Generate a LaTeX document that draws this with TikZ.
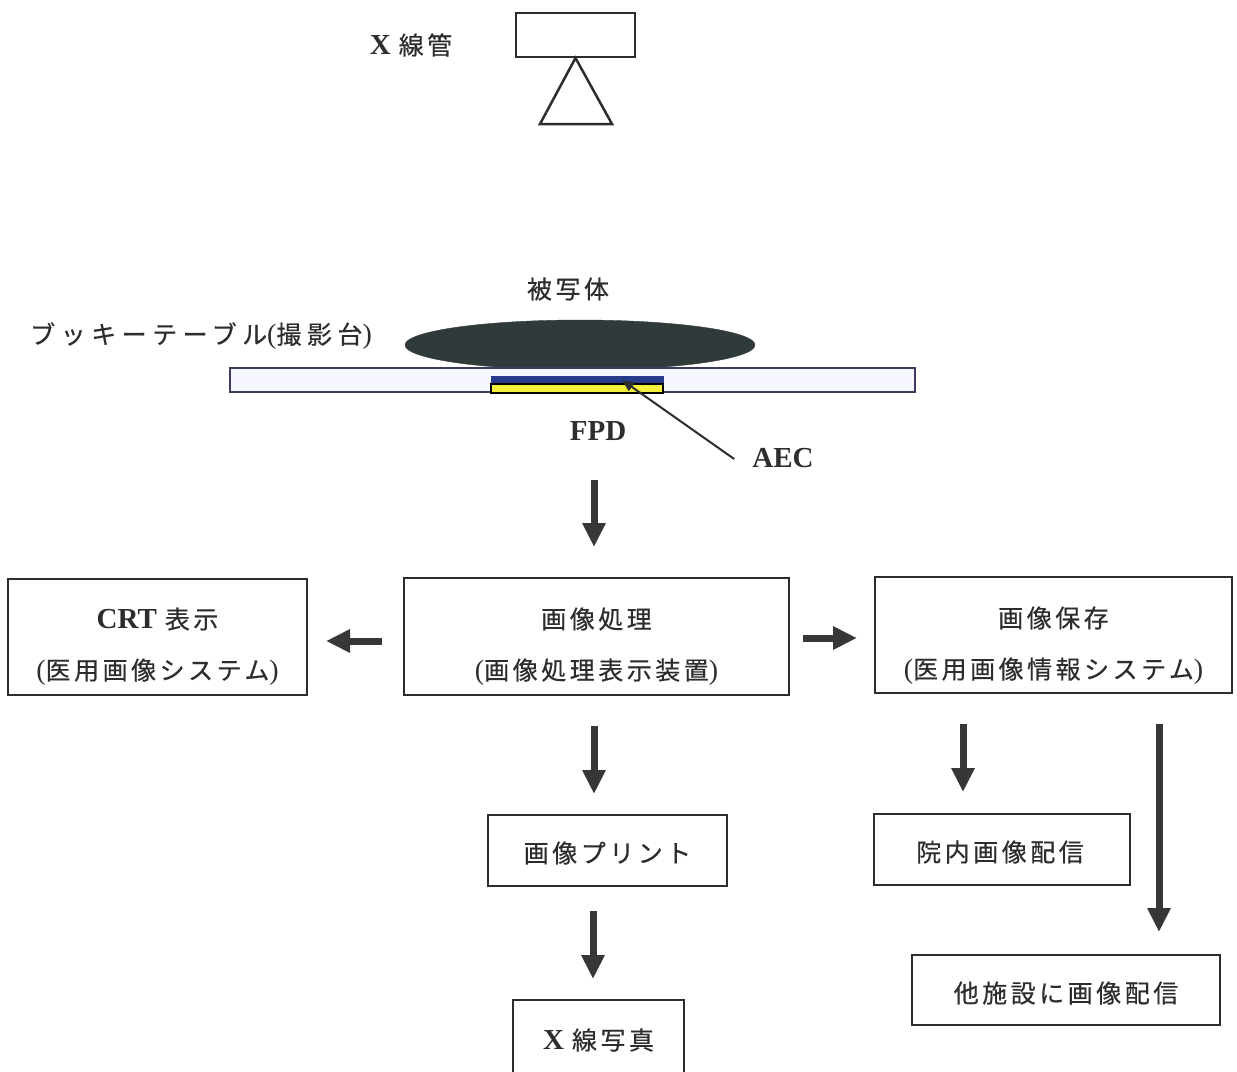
\documentclass[tikz,border=0pt]{standalone}
\usepackage{fontspec}
\usetikzlibrary{arrows.meta,calc,shapes.geometric}
\newfontfamily\jp[LetterSpace=14,FakeBold=0.4]{Noto Sans CJK JP}
\newfontfamily\jpwide[LetterSpace=22,FakeBold=0.4]{Noto Sans CJK JP}
\newfontfamily\lat{Liberation Serif}
\newcommand\lt[1]{{\fontsize{29}{31}\selectfont\lat\bfseries #1}}
\newcommand\lp{{\fontsize{28}{30}\selectfont\lat(}}
\newcommand\rp{{\fontsize{28}{30}\selectfont\lat)}}
\definecolor{ink}{RGB}{45,45,45}
\definecolor{arrowgray}{RGB}{55,55,55}
\definecolor{objfill}{RGB}{48,58,58}
\definecolor{tableedge}{RGB}{60,60,95}
\definecolor{aecblue}{RGB}{40,60,140}
\definecolor{fpdyellow}{RGB}{245,240,60}
\tikzset{
  txt/.style={inner sep=0pt, text=ink, font=\fontsize{25}{28}\selectfont\jp},
  box/.style={draw=ink, line width=2pt, fill=white, inner sep=0pt},
  bigarrow/.style={draw=arrowgray, line width=7pt, -{Triangle[width=22pt,length=24pt]}},
  thinarrow/.style={draw=ink, line width=2pt, -{Triangle[width=10pt,length=12pt]}},
}
\begin{document}
\begin{tikzpicture}[x=1pt,y=-1pt]
\clip (0,0) rectangle (1237,1071);
\fill[white] (0,0) rectangle (1237,1071);

% X-ray tube
\node[txt] (xlabel) at (411,45) {\lt{X}\hspace{8pt}線管};
\node[box, minimum width=119pt, minimum height=44pt] (tube) at (575.5,35) {};
\draw[ink, line width=2.5pt, line join=miter] (tube.south) -- (540,124) -- (612,124) -- cycle;

% object and table
\node[txt] (objlabel) at (568,289) {被写体};
\node[txt, anchor=west, font=\fontsize{25}{28}\selectfont\jpwide] (tablelabel) at (30,336) {ブッキーテーブル\lp 撮影台\rp};
\node[ellipse, fill=objfill, draw=objfill, minimum width=350pt, minimum height=50pt, inner sep=0pt] (obj) at (580,345) {};
\draw[tableedge, line width=2.2pt, fill=white!97!blue] (230,368) rectangle (915,392);
\fill[aecblue] (491,376) rectangle (664,384);
\draw[black, line width=1.2pt, fill=fpdyellow] (491,384) rectangle (663,393);
\node[txt] (fpd) at (598,431) {\lt{FPD}};
\node[txt] (aec) at (783,458) {\lt{AEC}};
\coordinate (aectip) at (622,380);
\draw[thinarrow] ([xshift=-18pt,yshift=-1pt]aec.west) -- (aectip);

% boxes
\node[box, minimum width=299pt, minimum height=116pt] (crt) at (157.5,637) {};
\node[txt] (crt1) at (157.5,619) {\lt{CRT}\hspace{8pt}表示};
\node[txt] (crt2) at (157.5,672) {\lp 医用画像システム\rp};

\node[box, minimum width=385pt, minimum height=117pt] (proc) at (596.5,636.5) {};
\node[txt] (proc1) at (596.5,619) {画像処理};
\node[txt] (proc2) at (596.5,672) {\lp 画像処理表示装置\rp};

\node[box, minimum width=357pt, minimum height=116pt] (store) at (1053.5,635) {};
\node[txt] (store1) at (1053.5,618) {画像保存};
\node[txt] (store2) at (1053.5,671) {\lp 医用画像情報システム\rp};

\node[box, minimum width=239pt, minimum height=71pt] (print) at (607.5,850.5) {};
\node[txt] (printt) at (607.5,853) {画像プリント};

\node[box, minimum width=171pt, minimum height=80pt] (xray) at (598.5,1040) {};
\node[txt] (xrayt) at (598.5,1040) {\lt{X}\hspace{8pt}線写真};

\node[box, minimum width=256pt, minimum height=71pt] (inhouse) at (1002,849.5) {};
\node[txt] (inhouset) at (1000,852) {院内画像配信};

\node[box, minimum width=308pt, minimum height=70pt] (other) at (1066,990) {};
\node[txt] (othert) at (1066,993) {他施設に画像配信};

% arrows
\coordinate (fpdout) at (594,480);
\draw[bigarrow, shorten >=30pt] (fpdout) -- (fpdout |- proc.north);
\draw[bigarrow, shorten <=21pt, shorten >=18pt] ([yshift=-4.5pt]proc.west) -- ([yshift=-4.5pt]proc.west -| crt.east);
\draw[bigarrow, shorten <=13pt, shorten >=17pt] ([yshift=-1.5pt]proc.east) -- ([yshift=-1.5pt]proc.east -| store.west);
\draw[bigarrow, shorten <=30pt, shorten >=20pt] ([xshift=-2.5pt]proc.south) -- ([xshift=-2.5pt]proc.south |- print.north);
\draw[bigarrow, shorten <=24pt, shorten >=20pt] ([xshift=-14.5pt]print.south) -- ([xshift=-14.5pt]print.south |- xray.north);
\draw[bigarrow, shorten <=30pt, shorten >=21pt] ([xshift=-90.5pt]store.south) -- ([xshift=-90.5pt]store.south |- inhouse.north);
\draw[bigarrow, shorten <=30pt, shorten >=22pt] ([xshift=105.5pt]store.south) -- ([xshift=105.5pt]store.south |- other.north);
\end{tikzpicture}
\end{document}
